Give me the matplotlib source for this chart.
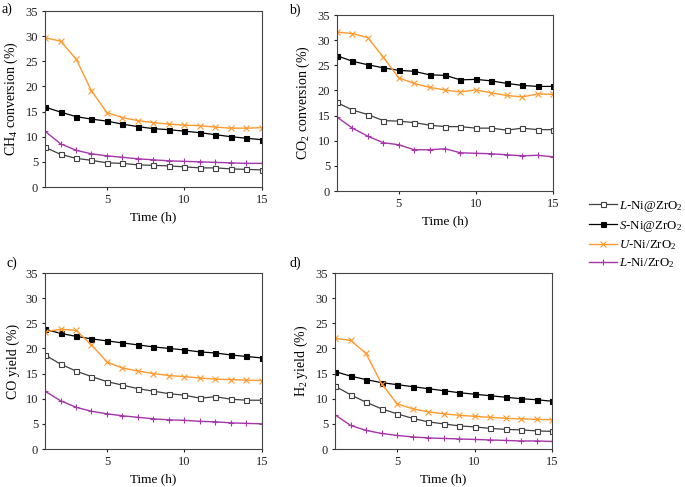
import matplotlib
matplotlib.use("Agg")
import matplotlib.pyplot as plt
from matplotlib.lines import Line2D

plt.rcParams['font.family'] = ['Liberation Serif', 'DejaVu Serif']
plt.rcParams['mathtext.fontset'] = 'custom'
plt.rcParams['mathtext.rm'] = 'Liberation Serif'
plt.rcParams['mathtext.it'] = 'Liberation Serif:italic'
plt.rcParams['mathtext.bf'] = 'Liberation Serif:bold'

time_h = list(range(1, 16))
series_names = [r'$\it{L}$-Ni@ZrO$_2$', r'$\it{S}$-Ni@ZrO$_2$',
                r'$\it{U}$-Ni/ZrO$_2$', r'$\it{L}$-Ni/ZrO$_2$']

# a) CH4 conversion
ch4_L_core = [7.9, 6.5, 5.7, 5.3, 4.8, 4.7, 4.4, 4.3, 4.2, 4.0, 3.8, 3.8, 3.6, 3.5, 3.4]
ch4_S_core = [15.9, 14.9, 14.0, 13.5, 13.1, 12.5, 12.0, 11.6, 11.4, 11.1, 10.8, 10.4, 10.0, 9.7, 9.4]
ch4_U_sup = [29.7, 29.0, 25.5, 19.1, 14.8, 13.8, 13.2, 12.8, 12.5, 12.3, 12.2, 11.9, 11.7, 11.7, 11.8]
ch4_L_sup = [11.1, 8.6, 7.3, 6.6, 6.2, 5.9, 5.6, 5.4, 5.2, 5.1, 5.0, 4.9, 4.8, 4.7, 4.7]

# b) CO2 conversion
co2_L_core = [17.6, 16.1, 15.2, 14.0, 13.9, 13.6, 13.1, 12.8, 12.8, 12.5, 12.5, 12.1, 12.5, 12.2, 12.2]
co2_S_core = [26.9, 25.8, 25.1, 24.5, 24.0, 23.8, 23.1, 23.0, 22.1, 22.2, 21.9, 21.4, 21.0, 20.8, 20.8]
co2_U_sup = [31.6, 31.3, 30.5, 26.6, 22.5, 21.4, 20.6, 20.1, 19.7, 20.1, 19.5, 19.0, 18.7, 19.3, 19.2]
co2_L_sup = [14.7, 12.5, 10.9, 9.6, 9.2, 8.2, 8.2, 8.4, 7.6, 7.5, 7.4, 7.2, 7.0, 7.1, 6.8]

# c) CO yield
co_L_core = [18.7, 16.9, 15.5, 14.4, 13.4, 12.7, 12.0, 11.5, 11.0, 10.7, 10.1, 10.4, 9.9, 9.7, 9.7]
co_S_core = [23.8, 23.0, 22.4, 21.9, 21.5, 21.1, 20.7, 20.3, 20.0, 19.7, 19.3, 19.1, 18.7, 18.4, 18.1]
co_U_sup = [23.3, 23.8, 23.6, 20.7, 17.3, 16.1, 15.5, 15.0, 14.6, 14.4, 14.1, 13.9, 13.8, 13.7, 13.6]
co_L_sup = [11.5, 9.6, 8.3, 7.5, 7.0, 6.6, 6.3, 6.0, 5.8, 5.7, 5.5, 5.4, 5.2, 5.1, 5.0]

# d) H2 yield
h2_L_core = [12.5, 10.8, 9.3, 8.0, 7.0, 6.1, 5.4, 5.0, 4.6, 4.4, 4.1, 3.9, 3.8, 3.6, 3.5]
h2_S_core = [15.4, 14.5, 13.8, 13.2, 12.8, 12.4, 12.0, 11.6, 11.2, 10.9, 10.6, 10.3, 10.0, 9.8, 9.5]
h2_U_sup = [22.0, 21.6, 19.0, 13.0, 9.0, 8.0, 7.4, 7.0, 6.7, 6.5, 6.3, 6.1, 6.0, 5.9, 5.8]
h2_L_sup = [6.8, 4.7, 3.7, 3.1, 2.7, 2.4, 2.2, 2.1, 2.0, 1.9, 1.8, 1.7, 1.6, 1.6, 1.5]

panels = [
    ('a)', r'CH$_4$ conversion (%)', [ch4_L_core, ch4_S_core, ch4_U_sup, ch4_L_sup]),
    ('b)', r'CO$_2$ conversion (%)', [co2_L_core, co2_S_core, co2_U_sup, co2_L_sup]),
    ('c)', 'CO yield (%)', [co_L_core, co_S_core, co_U_sup, co_L_sup]),
    ('d)', r'H$_2$ yield (%)', [h2_L_core, h2_S_core, h2_U_sup, h2_L_sup]),
]

styles = [
    dict(color='#404040', marker='s', mfc='white', mec='#404040', ms=3.6, mew=0.8, lw=0.9),
    dict(color='#000000', marker='s', mfc='black', mec='black', ms=3.6, mew=0.8, lw=0.9),
    dict(color='#FF9A2E', marker='x', mfc='none', mec='#FF9A2E', ms=4.5, mew=0.8, lw=1.0),
    dict(color='#A436A8', marker='+', mfc='none', mec='#A436A8', ms=4.5, mew=0.8, lw=1.0),
]

W, H = 685, 487
fig = plt.figure(figsize=(W / 100, H / 100), dpi=100)

# axes boxes in pixels: left, top, right, bottom
boxes = [(45, 11, 262, 187), (337, 15, 553, 191), (45, 273, 262, 449), (335, 273, 552, 449)]
label_pos = [(1, 3), (289, 4), (6, 257), (289, 257)]
order_draw = [0, 1, 3, 2]

for (lab, ylab, data), (l, t, r, b), (lx, ly) in zip(panels, boxes, label_pos):
    ax = fig.add_axes([l / W, 1 - b / H, (r - l) / W, (b - t) / H])
    for i in order_draw:
        ax.plot(time_h, data[i], label=series_names[i], **styles[i])
    ax.set_xlim(1, 15)
    ax.set_ylim(0, 35)
    ax.set_xticks([5, 10, 15])
    ax.set_yticks(range(0, 36, 5))
    ax.tick_params(direction='out', length=2.5, width=0.8, labelsize=9,
                   colors='#222222', pad=2.5)
    for sp in ax.spines.values():
        sp.set_linewidth(0.8)
        sp.set_color('#444444')
    ax.set_xlabel('Time (h)', fontsize=9.5, labelpad=3.5)
    ax.set_ylabel(ylab, fontsize=10, labelpad=4)
    fig.text(lx / W, 1 - ly / H, lab, fontsize=10, ha='left', va='top')

handles = [Line2D([], [], **styles[i]) for i in range(4)]
fig.legend(handles, series_names, loc='upper left',
           bbox_to_anchor=(589 / W, 1 - 199 / H), frameon=False,
           fontsize=9.3, handlelength=2.2, handletextpad=0.1, labelspacing=0.35,
           borderaxespad=0, borderpad=0)

fig.savefig('out.png', dpi=100)
